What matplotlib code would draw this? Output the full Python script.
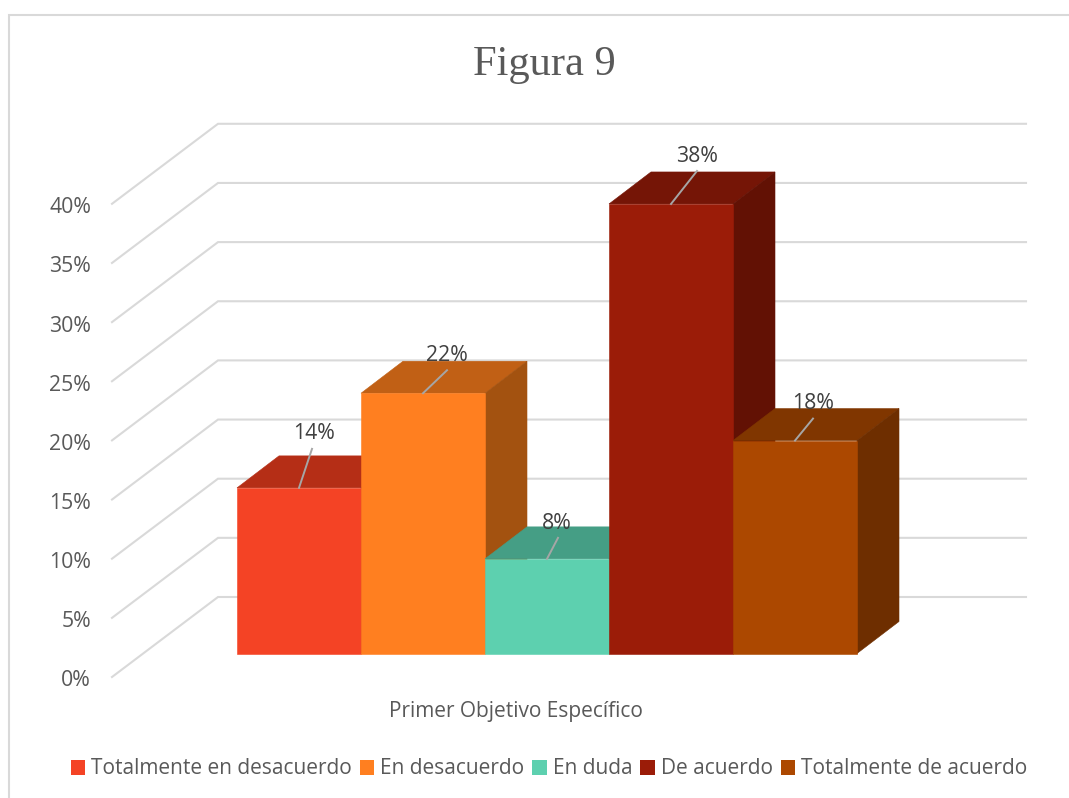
import numpy as np
import matplotlib
matplotlib.use("Agg")
import matplotlib.pyplot as plt
from matplotlib.patches import Polygon, Patch

# ---- data ----
categories = ["Totalmente en desacuerdo", "En desacuerdo", "En duda", "De acuerdo", "Totalmente de acuerdo"]
values = [14, 22, 8, 38, 18]
value_labels = ["14%", "22%", "8%", "38%", "18%"]
y_ticks = [0, 5, 10, 15, 20, 25, 30, 35, 40]
y_tick_labels = ["0%", "5%", "10%", "15%", "20%", "25%", "30%", "35%", "40%"]
x_label = "Primer Objetivo Específico"
title = "Figura 9"

# ---- style ----
front_colors = ["#F44325", "#FF7F20", "#5DD0AF", "#9B1C08", "#AC4800"]
top_colors = ["#B52E16", "#C16015", "#459E85", "#751506", "#803600"]
side_colors = ["#8F2412", "#A35210", "#367F6B", "#621104", "#6E2E00"]
GRID = "#D9D9D9"
TEXT = "#595959"
W, H = 1069, 798
PX_X = 124.0      # pixels per category
PX_Y = 11.83      # pixels per percent
X0, Y0 = 237.0, 653.5   # pixel of the first bar's front base

def dx(px):
    return px / PX_X

def dy(px):
    return px / PX_Y

fig = plt.figure(figsize=(W / 100, H / 100), dpi=100, facecolor="white")
ax = fig.add_axes([0, 0, 1, 1])
ax.set_xlim(-X0 / PX_X, (W - X0) / PX_X)
ax.set_ylim(-(H - Y0) / PX_Y, Y0 / PX_Y)
ax.axis("off")

SANS = ["Open Sans", "DejaVu Sans"]

# chart frame (left and top only)
ax.plot([dx(9 - X0), dx(9 - X0), dx(W - X0)], [dy(Y0 - H), dy(Y0 - 15), dy(Y0 - 15)],
        color=GRID, lw=1.5, solid_joinstyle="miter", zorder=1)

# gridlines: from the front edge of the wall, back, then along the back wall
for t, lab in zip(y_ticks, y_tick_labels):
    xs = [dx(112 - X0), dx(218 - X0), dx(1026 - X0)]
    ys = [t + dy(-23.5), t + dy(56.5), t + dy(56.5)]
    ax.plot(xs, ys, color=GRID, lw=1.5, solid_joinstyle="miter", zorder=1)
    ax.text(dx(91 - X0), t + dy(-27.5), lab, ha="right", va="center",
            fontsize=15.3, color=TEXT, family=SANS, zorder=5)

# oblique bars, painted left to right
depth_x, depth_y = dx(42), dy(32)
z = 2
for i, v in enumerate(values):
    x0, x1 = i, i + 1
    ax.add_patch(Polygon([(x0, v), (x1, v), (x1 + depth_x, v + depth_y), (x0 + depth_x, v + depth_y)],
                         closed=True, fc=top_colors[i], ec=top_colors[i], lw=0.4, zorder=z))
    ax.add_patch(Polygon([(x1, 0), (x1 + depth_x, depth_y), (x1 + depth_x, v + depth_y), (x1, v)],
                         closed=True, fc=side_colors[i], ec=side_colors[i], lw=0.4, zorder=z + 0.1))
    ax.bar(i + 0.5, v, width=1.0, color=front_colors[i], edgecolor=front_colors[i], lw=0.4, zorder=z + 0.15)
    z += 0.2

# leader lines and value labels
line_dx = [13, 24, 11, 26, 18]
line_dy = [39, 23, 21, 33, 22]
label_dx = [15, 24, 10, 26, 18]
label_dy = [54, 38, 35, 47, 37]
for i, v in enumerate(values):
    cx = i + 0.5
    ax.plot([cx, cx + dx(line_dx[i])], [v, v + dy(line_dy[i])], color="#A6A6A6", lw=1.4, zorder=6)
    ax.text(cx + dx(label_dx[i]), v + dy(label_dy[i]), value_labels[i], ha="center", va="center",
            fontsize=15.3, color="#404040", family=SANS, zorder=7)

# category label, title
ax.text(dx(516 - X0), dy(Y0 - 711), x_label, ha="center", va="center", fontsize=15, color=TEXT, family=SANS)
ax.text(dx(544 - X0), dy(Y0 - 64.5), title, ha="center", va="center", fontsize=30.6, color=TEXT,
        family="Liberation Serif")

# legend
handles = [Patch(fc=c, ec="none") for c in front_colors]
fig.legend(handles, categories, loc="center", bbox_to_anchor=(549 / W, 1 - 769 / H), ncol=5, frameon=False,
           prop={"family": SANS, "size": 15}, labelcolor=TEXT, handlelength=0.7, handleheight=0.7,
           handletextpad=0.28, columnspacing=0.38, borderpad=0, borderaxespad=0)

fig.savefig("out.png", dpi=100)
